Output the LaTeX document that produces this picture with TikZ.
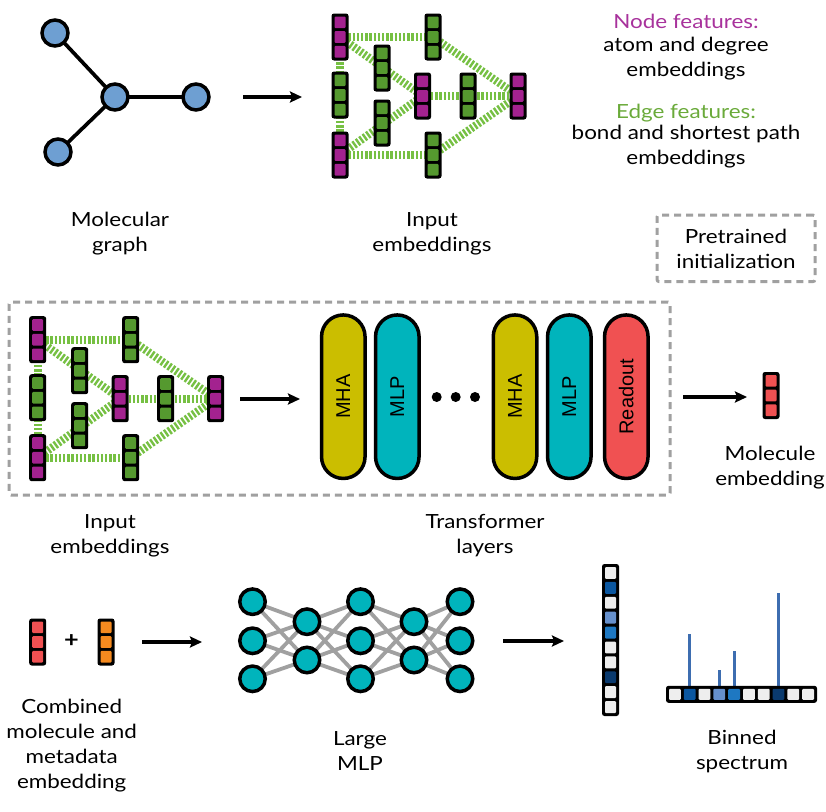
\documentclass[tikz,border=0pt]{standalone}
\usepackage{fontspec}
\setmainfont{Lato}[FakeStretch=1.15]
\newfontfamily\pillfont{Liberation Sans}
\usetikzlibrary{arrows.meta,backgrounds}
\definecolor{mag}{HTML}{A3228F}
\definecolor{grn}{HTML}{55992F}
\definecolor{lgrn}{HTML}{76C043}
\definecolor{molblue}{HTML}{6E9FD2}
\definecolor{mhacol}{HTML}{CBBE00}
\definecolor{mlpcol}{HTML}{00B4BC}
\definecolor{readcol}{HTML}{F05152}
\definecolor{orng}{HTML}{F58A1F}
\definecolor{dgray}{HTML}{A0A0A0}
\definecolor{cellgray}{HTML}{EEEEEE}
\definecolor{bA}{HTML}{0B57A0}
\definecolor{bB}{HTML}{6690CC}
\definecolor{bC}{HTML}{1E78C2}
\definecolor{bD}{HTML}{0A3A6E}
\definecolor{barblue}{HTML}{3D6DB0}
\definecolor{magtext}{HTML}{A8329C}
\definecolor{grntext}{HTML}{6AAA3A}
\tikzset{
  vecbox/.style={rectangle, fill=black, minimum width=17pt, minimum height=47pt, inner sep=0pt, rounded corners=2.5pt},
  edgeline/.style={lgrn, line width=8pt, dash pattern=on 2.4pt off 1.8pt},
  atom/.style={circle, draw=black, line width=3.5pt, fill=molblue, minimum size=26pt, inner sep=0pt},
  bond/.style={black, line width=3.7pt},
  arr/.style={black, line width=3.2pt, -{Stealth[length=12pt,width=11pt,inset=2pt]}},
  lbl/.style={align=center, inner sep=0pt, font=\fontsize{19.5}{24.8}\selectfont, anchor=base},
  pill/.style={rectangle, draw=black, line width=3.5pt, rotate=90, minimum width=163.5pt, minimum height=43.5pt, rounded corners=21.7pt, inner sep=0pt, font=\pillfont\fontsize{20}{24}\selectfont},
  neuron/.style={circle, draw=black, line width=3.5pt, fill=mlpcol, minimum size=25.5pt, inner sep=0pt},
  nnedge/.style={dgray, line width=3.8pt},
  dashbox/.style={draw=dgray, line width=3pt, dash pattern=on 7pt off 5pt, rounded corners=2pt, inner sep=0pt},
  cellbox/.style={rectangle, fill=black, inner sep=0pt, rounded corners=2.5pt}
}
\newcommand{\embvec}[4]{%
  \node[vecbox] (#1) at (#2,#3) {};
  \foreach \kk in {0,1,2} {
    \fill[#4, rounded corners=1pt] ({#2-5.5},{#3-20.5+14.67*\kk}) rectangle ++(11,11.67);
  }
}
\newcommand{\embgraph}[3]{%
  \begin{scope}[shift={(#2,#3)}]
    \embvec{#1a}{340}{37}{mag}
    \embvec{#1b}{340}{95}{grn}
    \embvec{#1c}{340}{155}{mag}
    \embvec{#1d}{433}{37}{grn}
    \embvec{#1e}{382}{68}{grn}
    \embvec{#1f}{382}{123}{grn}
    \embvec{#1g}{422.5}{96}{mag}
    \embvec{#1h}{468}{96}{grn}
    \embvec{#1i}{518}{96}{mag}
    \embvec{#1j}{433}{155}{grn}
  \end{scope}
  \begin{pgfonlayer}{background}
    \draw[edgeline] (#1a.center) -- (#1d.center);
    \draw[edgeline] (#1a.center) -- (#1g.center);
    \draw[edgeline] (#1c.center) -- (#1g.center);
    \draw[edgeline] (#1c.center) -- (#1j.center);
    \draw[edgeline] (#1d.center) -- (#1i.center);
    \draw[edgeline] (#1j.center) -- (#1i.center);
    \draw[edgeline] (#1g.center) -- (#1h.center) -- (#1i.center);
    \draw[edgeline] (#1a.center) -- (#1b.center) -- (#1c.center);
  \end{pgfonlayer}
}
\begin{document}
\begin{tikzpicture}[x=1pt,y=-1pt]
\useasboundingbox (0,0) rectangle (826,811);

% molecular graph
\node[atom] (n1) at (55,33) {};
\node[atom] (n2) at (115,97) {};
\node[atom] (n3) at (196,97) {};
\node[atom] (n4) at (58,152) {};
\begin{pgfonlayer}{background}
\draw[bond] (n1.center) -- (n2.center) -- (n3.center);
\draw[bond] (n4.center) -- (n2.center);
\end{pgfonlayer}
\node[lbl] (lmol) at (120,251) {Molecular\\graph};

\coordinate (ar1s) at (243,97);
\coordinate (ar1e) at (302,97);
\draw[arr] (ar1s) -- (ar1e);

% top embeddings
\embgraph{t}{0}{0}
\node[lbl] (ltop) at (432,251) {Input\\embeddings};

% feature legend
\node[lbl, text=magtext] (lnode) at (686,28.3) {Node features:};
\node[lbl] (lnode2) at (686,76) {atom and degree\\embeddings};
\node[lbl, text=grntext] (ledge) at (686,118.3) {Edge features:};
\node[lbl] (ledge2) at (686,164.3) {bond and shortest path\\embeddings};

% pretrained box
\node[dashbox, minimum width=158pt, minimum height=66.5pt] (pre) at (736,248.3) {};
\node[lbl] (lpre) at (736,268.3) {Pretrained\\initialization};

% main dashed box
\node[dashbox, minimum width=661pt, minimum height=193pt] (mainbox) at (339.5,398.5) {};

% middle embeddings
\embgraph{m}{-302.3}{302.7}
\node[lbl] (lmid) at (110,553) {Input\\embeddings};

\coordinate (ar2s) at (240,399);
\coordinate (ar2e) at (300,399);
\draw[arr] (ar2s) -- (ar2e);

% transformer
\node[pill, fill=mhacol] (mhaA) at (343.3,396.7) {MHA};
\node[pill, fill=mlpcol] (mlpA) at (397.3,396.7) {MLP};
\node[circle, fill=black, minimum size=10pt, inner sep=0pt] (d1) at (436.7,397) {};
\node[circle, fill=black, minimum size=10pt, inner sep=0pt] (d2) at (455.7,397) {};
\node[circle, fill=black, minimum size=10pt, inner sep=0pt] (d3) at (475,397) {};
\node[pill, fill=mhacol] (mhaB) at (515,396.7) {MHA};
\node[pill, fill=mlpcol] (mlpB) at (569.3,396.7) {MLP};
\node[pill, fill=readcol] (readout) at (626.3,396.7) {Readout};
\node[lbl] (ltrans) at (485,553) {Transformer\\layers};

\coordinate (ar3s) at (683,397);
\coordinate (ar3e) at (747,397);
\draw[arr] (ar3s) -- (ar3e);
\embvec{molemb}{771}{395.5}{readcol}
\node[lbl] (lmolemb) at (770,485) {Molecule\\embedding};

% bottom
\embvec{cmol}{37.7}{642}{readcol}
\node[font=\fontsize{22}{24}\selectfont\bfseries, inner sep=0pt] (plus) at (71.5,641) {+};
\embvec{cmeta}{106}{642}{orng}
\node[lbl] (lcomb) at (71.7,788) {Combined\\molecule and\\metadata\\embedding};

\coordinate (ar4s) at (142,642);
\coordinate (ar4e) at (202,642);
\draw[arr] (ar4s) -- (ar4e);

% MLP
\node[neuron] (p1) at (252.5,601.7) {};
\node[neuron] (p2) at (252.5,640.8) {};
\node[neuron] (p3) at (252.5,678.8) {};
\node[neuron] (q1) at (307,621.7) {};
\node[neuron] (q2) at (307,660) {};
\node[neuron] (r1) at (360.5,601.7) {};
\node[neuron] (r2) at (360.5,640.8) {};
\node[neuron] (r3) at (360.5,678.8) {};
\node[neuron] (s1) at (414,621.7) {};
\node[neuron] (s2) at (414,660) {};
\node[neuron] (u1) at (460,601.7) {};
\node[neuron] (u2) at (460,640.8) {};
\node[neuron] (u3) at (460,678.8) {};
\begin{pgfonlayer}{background}
\foreach \a in {p1,p2,p3} \foreach \b in {q1,q2} \draw[nnedge] (\a.center) -- (\b.center);
\foreach \a in {q1,q2} \foreach \b in {r1,r2,r3} \draw[nnedge] (\a.center) -- (\b.center);
\foreach \a in {r1,r2,r3} \foreach \b in {s1,s2} \draw[nnedge] (\a.center) -- (\b.center);
\foreach \a in {s1,s2} \foreach \b in {u1,u2,u3} \draw[nnedge] (\a.center) -- (\b.center);
\end{pgfonlayer}
\node[lbl] (lmlp) at (360,770) {Large\\MLP};

\coordinate (ar5s) at (503,641);
\coordinate (ar5e) at (564,641);
\draw[arr] (ar5s) -- (ar5e);

% spectrum vector
\node[cellbox, minimum width=17pt, minimum height=152pt] (specv) at (610.5,640) {};
\foreach \i/\c in {0/cellgray,1/bA,2/cellgray,3/bB,4/bC,5/cellgray,6/cellgray,7/bD,8/cellgray,9/cellgray}
  \fill[\c, rounded corners=1pt] (605,{567+14.9*\i}) rectangle ++(11,11.9);

% binned spectrum
\node[cellbox, minimum width=151pt, minimum height=17pt] (spech) at (741.5,694.3) {};
\foreach \i/\c in {0/cellgray,1/bA,2/cellgray,3/bB,4/bC,5/cellgray,6/cellgray,7/bD,8/cellgray,9/cellgray}
  \fill[\c, rounded corners=1pt] ({669+14.8*\i},688.8) rectangle ++(11.8,11);
\begin{pgfonlayer}{background}
\draw[barblue, line width=3pt] (689.7,687) -- (689.7,634);
\draw[barblue, line width=3pt] (719.3,687) -- (719.3,670);
\draw[barblue, line width=3pt] (734.1,687) -- (734.1,651);
\draw[barblue, line width=3pt] (778.5,687) -- (778.5,593.3);
\end{pgfonlayer}
\node[lbl] (lspec) at (742,769) {Binned\\spectrum};
\end{tikzpicture}
\end{document}
